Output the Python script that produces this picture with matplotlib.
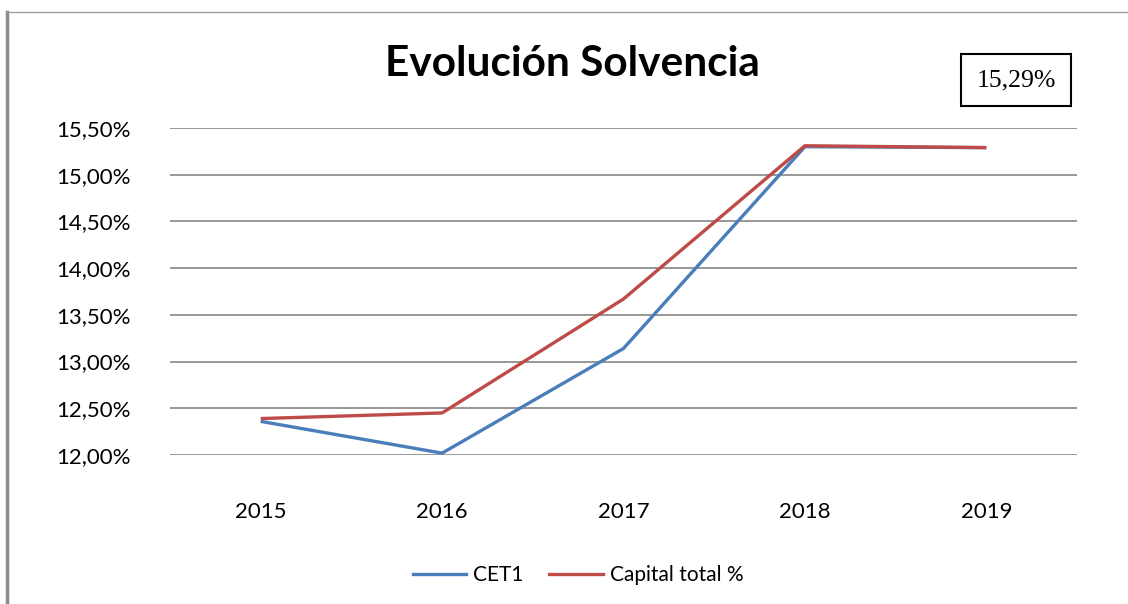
"""
Evolucion Solvencia - CET1 vs capital total.
"""

import matplotlib.pyplot as plt
from matplotlib.lines import Line2D
from matplotlib.ticker import FuncFormatter

YEARS = ["2015", "2016", "2017", "2018", "2019"]
CET1 = [12.36, 12.02, 13.14, 15.30, 15.29]
CAPITAL_TOTAL = [12.39, 12.45, 13.67, 15.31, 15.29]
Y_TICKS = [12.0, 12.5, 13.0, 13.5, 14.0, 14.5, 15.0, 15.5]
BOX_TEXT = "15,29%"

BLUE = "#4a7ebb"
RED = "#be4b48"
GRID = "#868686"

W, H = 1128, 604


def pct_fmt(v, pos):
    return f"{v:.2f}%".replace(".", ",")


def main():
    plt.rcParams["font.family"] = ["Lato", "DejaVu Sans"]
    fig = plt.figure(figsize=(W / 100, H / 100), dpi=100)

    # plot area in pixels: x 170-1077, y 128-455
    ax = fig.add_axes([170 / W, 1 - 455 / H, (1077 - 170) / W, (455 - 128) / H])
    x = list(range(len(YEARS)))
    ax.plot(x, CET1, color=BLUE, linewidth=2.4, solid_capstyle="butt", label="CET1")
    ax.plot(x, CAPITAL_TOTAL, color=RED, linewidth=2.4, solid_capstyle="butt", label="Capital total %")

    ax.set_xlim(-0.5, len(YEARS) - 0.5)
    ax.set_ylim(12.0, 15.5)
    ax.set_yticks(Y_TICKS)
    ax.yaxis.set_major_formatter(FuncFormatter(pct_fmt))
    ax.set_xticks(x)
    ax.set_xticklabels(YEARS)
    for yv in Y_TICKS:
        ax.axhline(yv, color=GRID, linewidth=1.2, zorder=0)
    for s in ax.spines.values():
        s.set_visible(False)
    ax.tick_params(axis="both", length=0, labelsize=16, colors="#000000")
    ax.tick_params(axis="y", pad=28)
    ax.tick_params(axis="x", pad=34)

    fig.text(572 / W, 1 - 64 / H, "Evolución Solvencia", ha="center", va="center",
             fontsize=30.5, fontweight="bold")

    fig.text(1016 / W, 1 - 80 / H, BOX_TEXT, ha="center", va="center",
             fontsize=18.5, family=["Liberation Serif"],
             bbox=dict(boxstyle="square,pad=0.6", facecolor="white", edgecolor="black", linewidth=1.5))

    handles = [Line2D([], [], color=BLUE, linewidth=2.4), Line2D([], [], color=RED, linewidth=2.4)]
    fig.legend(handles, ["CET1", "Capital total %"], loc="center", bbox_to_anchor=(578 / W, 1 - 575 / H),
               ncol=2, frameon=False, fontsize=15, handlelength=2.55, columnspacing=1.25, handletextpad=0.35)

    # outer border of the chart frame
    fig.add_artist(Line2D([7 / W, 7 / W], [0, 1 - 12 / H], color="#8c8c8c", linewidth=2.5))
    fig.add_artist(Line2D([7 / W, 1], [1 - 12 / H, 1 - 12 / H], color="#a0a0a0", linewidth=1))

    fig.savefig("out.png", dpi=100)
    plt.close(fig)


if __name__ == "__main__":
    main()
